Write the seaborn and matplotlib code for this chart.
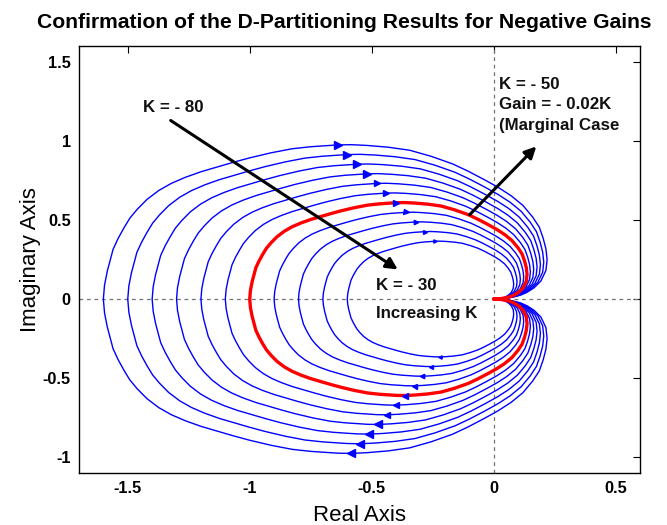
import numpy as np
import pandas as pd
import matplotlib
matplotlib.use("Agg")
import matplotlib.pyplot as plt
import seaborn as sns

# ---- data ----
K_values = [-30, -35, -40, -45, -50, -55, -60, -65, -70, -75, -80]
K_marginal = -50
# upper half (positive frequencies) of the K = -50 locus, from (-1, 0) to the origin
base_re = [-1.000, -0.997, -0.990, -0.975, -0.962, -0.947, -0.932, -0.913, -0.888,
           -0.858, -0.826, -0.790, -0.750, -0.708, -0.668, -0.625, -0.570, -0.516,
           -0.468, -0.400, -0.365, -0.324, -0.270, -0.215, -0.160, -0.105, -0.065,
           -0.023, 0.012, 0.045, 0.075, 0.100, 0.117, 0.127, 0.134, 0.137, 0.134,
           0.121, 0.104, 0.086, 0.070, 0.050, 0.030, 0.012, 0.000]
base_im = [0.000, 0.055, 0.110, 0.197, 0.240, 0.282, 0.320, 0.355, 0.394,
           0.429, 0.457, 0.481, 0.503, 0.522, 0.540, 0.558, 0.578, 0.594,
           0.602, 0.609, 0.610, 0.607, 0.600, 0.588, 0.564, 0.534, 0.505,
           0.471, 0.441, 0.408, 0.370, 0.324, 0.284, 0.240, 0.198, 0.156, 0.113,
           0.071, 0.045, 0.027, 0.016, 0.008, 0.003, 0.001, 0.000]
arrow_re_top = -0.40
arrow_re_bottom = -0.365

title = "Confirmation of the D-Partitioning Results for Negative Gains"
xlabel = "Real Axis"
ylabel = "Imaginary Axis"
xticks = [-1.5, -1, -0.5, 0, 0.5]
xticklabels = ["-1.5", "-1", "-0.5", "0", "0.5"]
yticks = [-1, -0.5, 0, 0.5, 1, 1.5]
yticklabels = ["-1", "-0.5", "0", "0.5", "1", "1.5"]

sns.set_theme(style="white")
plt.rcParams["font.family"] = ["Liberation Sans", "DejaVu Sans"]

fig = plt.figure(figsize=(6.67, 5.25), dpi=100)
ax = fig.add_axes([0.1184, 0.099, 0.9595 - 0.1184, 0.9124 - 0.099])

bre = np.array(base_re)
bim = np.array(base_im)
# full closed locus: negative frequencies (mirror) then positive frequencies
full_re = np.concatenate([bre[::-1], bre[1:]])
full_im = np.concatenate([-bim[::-1], bim[1:]])
i_top = int(np.argmin(np.abs(bre[:25] - arrow_re_top)))
i_bot = int(np.argmin(np.abs(bre[:25] - arrow_re_bottom)))

# reference dashed axes
ax.axhline(0, color="0.45", lw=0.9, ls=(0, (3, 3)), zorder=1)
ax.axvline(0, color="0.45", lw=0.9, ls=(0, (3, 3)), zorder=1)

order = [k for k in K_values if k != K_marginal] + [K_marginal]
for K in order:
    g = K / K_marginal
    red = K == K_marginal
    col = "#FF0000" if red else "#0000FF"
    df = pd.DataFrame({"re": g * full_re, "im": g * full_im})
    sns.lineplot(data=df, x="re", y="im", sort=False, estimator=None,
                 color=col, lw=2.4 if red else 1.0, ax=ax, zorder=3 if red else 2)
    ms = 4.0 * g
    ax.plot([g * bre[i_top]], [g * bim[i_top]], marker=">", ms=ms, color="#0000FF",
            mec="#0000FF", ls="none", zorder=4)
    ax.plot([g * bre[i_bot]], [-g * bim[i_bot]], marker="<", ms=ms, color="#0000FF",
            mec="#0000FF", ls="none", zorder=4)

# annotations
aprops = dict(arrowstyle="-|>", lw=2.2, color="black", mutation_scale=17, shrinkA=0, shrinkB=0)
ax.annotate("", xy=(-0.393, 0.187), xytext=(-1.324, 1.129), arrowprops=aprops, zorder=5)
ax.annotate("", xy=(0.175, 0.965), xytext=(-0.098, 0.534), arrowprops=aprops, zorder=5)
tkw = dict(fontsize=12.2, fontweight="bold", color="#111111", zorder=6)
ax.text(-1.436, 1.21, "K = - 80", ha="left", va="center", **tkw)
ax.text(-0.484, 0.085, "K = - 30", ha="left", va="center", **tkw)
ax.text(-0.482, -0.09, "Increasing K", ha="left", va="center", **tkw)
ax.text(0.022, 1.405, "K = - 50\nGain = - 0.02K\n(Marginal Case", ha="left", va="top",
        linespacing=1.45, **tkw)

ax.set_xlim(-1.7, 0.6)
ax.set_ylim(-1.1, 1.6)
ax.set_xticks(xticks)
ax.set_xticklabels(xticklabels)
ax.set_yticks(yticks)
ax.set_yticklabels(yticklabels)
ax.tick_params(direction="in", length=5, width=0.8, top=True, right=True,
               labelsize=11.8, colors="black", pad=6)
for lab in ax.get_xticklabels() + ax.get_yticklabels():
    lab.set_fontweight("bold")
for s in ax.spines.values():
    s.set_color("black")
    s.set_linewidth(1.0)
ax.set_xlabel(xlabel, fontsize=16, color="black", labelpad=6)
ax.set_ylabel(ylabel, fontsize=16, color="black", labelpad=1)
fig.text(344.5 / 667, 1 - 23 / 525, title, ha="center", va="center",
         fontsize=15.2, fontweight="bold", color="black")

fig.savefig("out.png", dpi=100)
